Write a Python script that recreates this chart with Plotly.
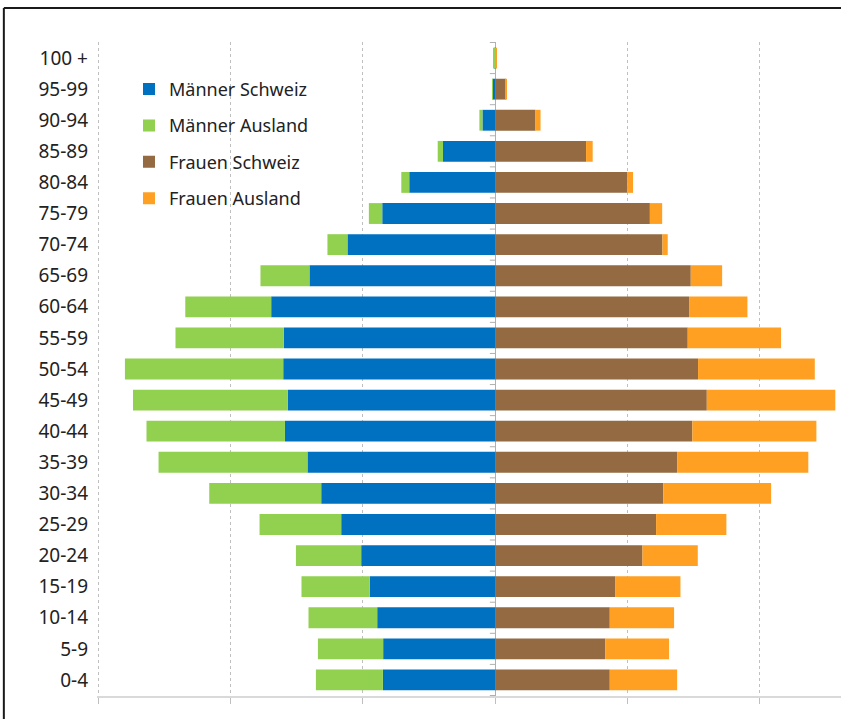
import plotly.graph_objects as go

# Age groups (bottom to top)
age_groups = ["0-4", "5-9", "10-14", "15-19", "20-24", "25-29", "30-34", "35-39",
              "40-44", "45-49", "50-54", "55-59", "60-64", "65-69", "70-74",
              "75-79", "80-84", "85-89", "90-94", "95-99", "100 +"]

# Values (thousands)
maenner_schweiz = [84.8, 84.6, 89.1, 94.7, 101.2, 116.3, 131.4, 141.8, 158.8, 156.6,
                   160.1, 159.6, 169.2, 140.3, 111.6, 85.3, 64.9, 39.4, 9.6, 2.0, 0.3]
maenner_ausland = [50.6, 49.3, 51.9, 51.6, 49.3, 61.7, 84.6, 112.5, 104.6, 117.0,
                   119.6, 81.9, 64.9, 37.0, 15.1, 10.1, 6.0, 4.0, 2.3, 0.3, 0.8]
frauen_schweiz = [86.6, 83.3, 86.6, 90.9, 111.3, 121.6, 127.1, 137.5, 149.0, 159.9,
                  153.3, 145.5, 146.5, 147.8, 126.4, 116.9, 99.7, 68.7, 30.5, 8.1, 0.4]
frauen_ausland = [50.9, 48.1, 48.6, 49.1, 41.8, 53.1, 81.4, 99.1, 93.7, 97.1,
                  88.2, 70.5, 44.1, 23.7, 4.0, 9.3, 4.5, 5.0, 3.8, 0.8, 1.0]

x_ticks = [-300, -200, -100, 0, 100, 200]

series = [
    ("Männer Schweiz", [-v for v in maenner_schweiz], "#0070C0"),
    ("Männer Ausland", [-v for v in maenner_ausland], "#92D050"),
    ("Frauen Schweiz", frauen_schweiz, "#936A41"),
    ("Frauen Ausland", frauen_ausland, "#FFA022"),
]

fig = go.Figure()
for i, (name, vals, col) in enumerate(series):
    fig.add_trace(go.Bar(
        y=age_groups, x=vals, name=name, orientation="h",
        marker=dict(color=col, line=dict(width=0)),
        legendgroup=f"g{i}",
    ))

shapes = []
# frame of the chart: only left and top edges are visible in the crop
shapes.append(dict(type="line", xref="paper", yref="paper",
                   x0=-0.1252, x1=-0.1252, y0=-0.3, y1=1.052,
                   line=dict(color="#1a1a1a", width=2), layer="above"))
shapes.append(dict(type="line", xref="paper", yref="paper",
                   x0=-0.1252, x1=1.3, y0=1.052, y1=1.052,
                   line=dict(color="#1a1a1a", width=2), layer="above"))
# small tick marks on the vertical axis at zero
for k in range(len(age_groups) + 1):
    shapes.append(dict(type="line", xref="x", yref="y",
                       x0=-4, x1=0, y0=k - 0.5, y1=k - 0.5,
                       line=dict(color="#b0b0b0", width=1), layer="below"))

fig.update_layout(
    width=841, height=719,
    margin=dict(l=97, r=0, t=42, b=23),
    paper_bgcolor="white", plot_bgcolor="white",
    barmode="relative", bargap=0.33,
    font=dict(family="Noto Sans, Open Sans, sans-serif", color="#222222"),
    showlegend=True,
    legend=dict(x=0.043, y=0.956, xanchor="left", yanchor="top",
                font=dict(size=18, color="#222222"),
                traceorder="grouped", tracegroupgap=10,
                bgcolor="rgba(0,0,0,0)"),
    shapes=shapes,
    xaxis=dict(range=[-300.8, 261.3], tickmode="array", tickvals=x_ticks,
               showticklabels=False, ticks="outside", ticklen=6,
               tickcolor="#bfbfbf", tickwidth=1,
               showgrid=True, gridcolor="#bfbfbf", griddash="3px,3px", gridwidth=1,
               zeroline=True, zerolinecolor="#b0b0b0", zerolinewidth=1,
               showline=True, linecolor="#d9d9d9", linewidth=2, fixedrange=True),
    yaxis=dict(type="category", categoryorder="array", categoryarray=age_groups,
               showgrid=False, zeroline=False, showline=False, ticks="",
               ticklabelstandoff=8,
               tickfont=dict(size=19, color="#222222"), fixedrange=True),
)

fig.write_html("out.html")
